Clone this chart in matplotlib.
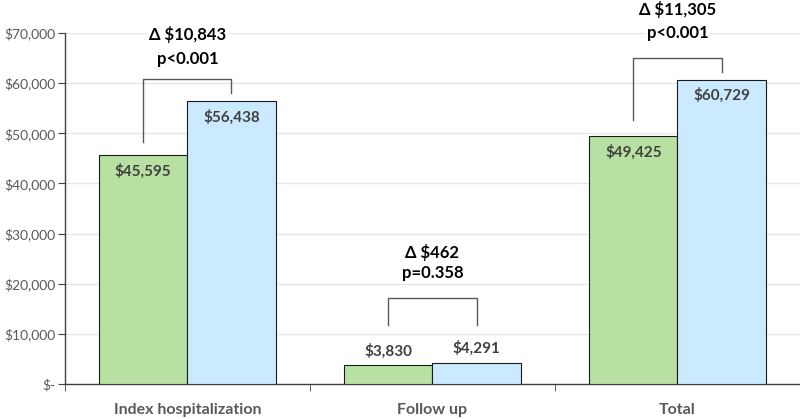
import matplotlib
matplotlib.use("Agg")
import matplotlib.pyplot as plt
import numpy as np
from matplotlib.ticker import FixedLocator

categories = ["Index hospitalization", "Follow up", "Total"]
group_a = [45595, 3830, 49425]
group_b = [56438, 4291, 60729]
deltas = ["Δ $10,843", "Δ $462", "Δ $11,305"]
pvalues = ["p<0.001", "p=0.358", "p<0.001"]
yticks = [0, 10000, 20000, 30000, 40000, 50000, 60000, 70000]
yticklabels = ["$-", "$10,000", "$20,000", "$30,000", "$40,000", "$50,000", "$60,000", "$70,000"]

plt.rcParams['font.family'] = ['Lato', 'DejaVu Sans']

fig = plt.figure(figsize=(8, 4.19), dpi=100)
ax = fig.add_axes([0.081, 0.0835, 0.919, 0.8375])

x = np.arange(len(categories))
w = 0.36
green = "#B8E0A3"
blue = "#CCEAFF"
ax.bar(x - w/2, group_a, w, color=green, edgecolor="#1a1a1a", linewidth=0.8, zorder=3)
ax.bar(x + w/2, group_b, w, color=blue, edgecolor="#1a1a1a", linewidth=0.8, zorder=3)

ax.set_xlim(-0.5, 2.5)
ax.set_ylim(0, 70000)
ax.set_yticks(yticks)
ax.set_yticklabels(yticklabels)
ax.yaxis.grid(True, color="#e6e6e6", linewidth=1.0, zorder=0)
ax.set_axisbelow(True)

ax.set_xticks(x)
ax.set_xticklabels(categories, fontweight="bold", fontsize=11.5, color="#595959")
ax.tick_params(axis="x", which="major", length=0, pad=14)
ax.xaxis.set_minor_locator(FixedLocator([-0.5, 0.5, 1.5, 2.5]))
ax.tick_params(axis="x", which="minor", length=5, color="#404040", direction="out")
ax.tick_params(axis="y", length=5, color="#404040", labelsize=10, labelcolor="#595959", pad=2)

for s in ["top", "right"]:
    ax.spines[s].set_visible(False)
ax.spines["left"].set_color("#404040")
ax.spines["bottom"].set_color("#404040")
ax.spines["left"].set_linewidth(1.0)
ax.spines["bottom"].set_linewidth(1.0)

valcolor = "#404040"
for i in range(len(categories)):
    for xpos, v in [(x[i] - w/2, group_a[i]), (x[i] + w/2, group_b[i])]:
        label = "${:,}".format(v)
        if v > 20000:
            ax.text(xpos, v - 3200, label, ha="center", va="center", fontsize=11,
                    fontweight="bold", color=valcolor, zorder=4)
        else:
            ax.text(xpos, v + 2800, label, ha="center", va="center", fontsize=11,
                    fontweight="bold", color=valcolor, zorder=4)

# brackets: (left bottom, top, right bottom)
brackets = [(48300, 60870, 58080), (11780, 17170, 11780), (52700, 65070, 62280)]
text_y = [(69800, 64800), (26300, 22100), (74700, 70100)]
bcolor = "#595959"
for i in range(len(categories)):
    lb, top, rb = brackets[i]
    xl, xr = x[i] - w/2, x[i] + w/2
    ax.plot([xl, xl, xr, xr], [lb, top, top, rb], color=bcolor, linewidth=1.0,
            zorder=4, clip_on=False)
    for t, yy in zip([deltas[i], pvalues[i]], text_y[i]):
        ax.text(x[i], yy, t, ha="center", va="center", fontsize=12, fontweight="bold",
                color="black", zorder=5, clip_on=False,
                bbox=dict(facecolor="white", edgecolor="none", pad=1.5))

fig.savefig("out.png", dpi=100)
